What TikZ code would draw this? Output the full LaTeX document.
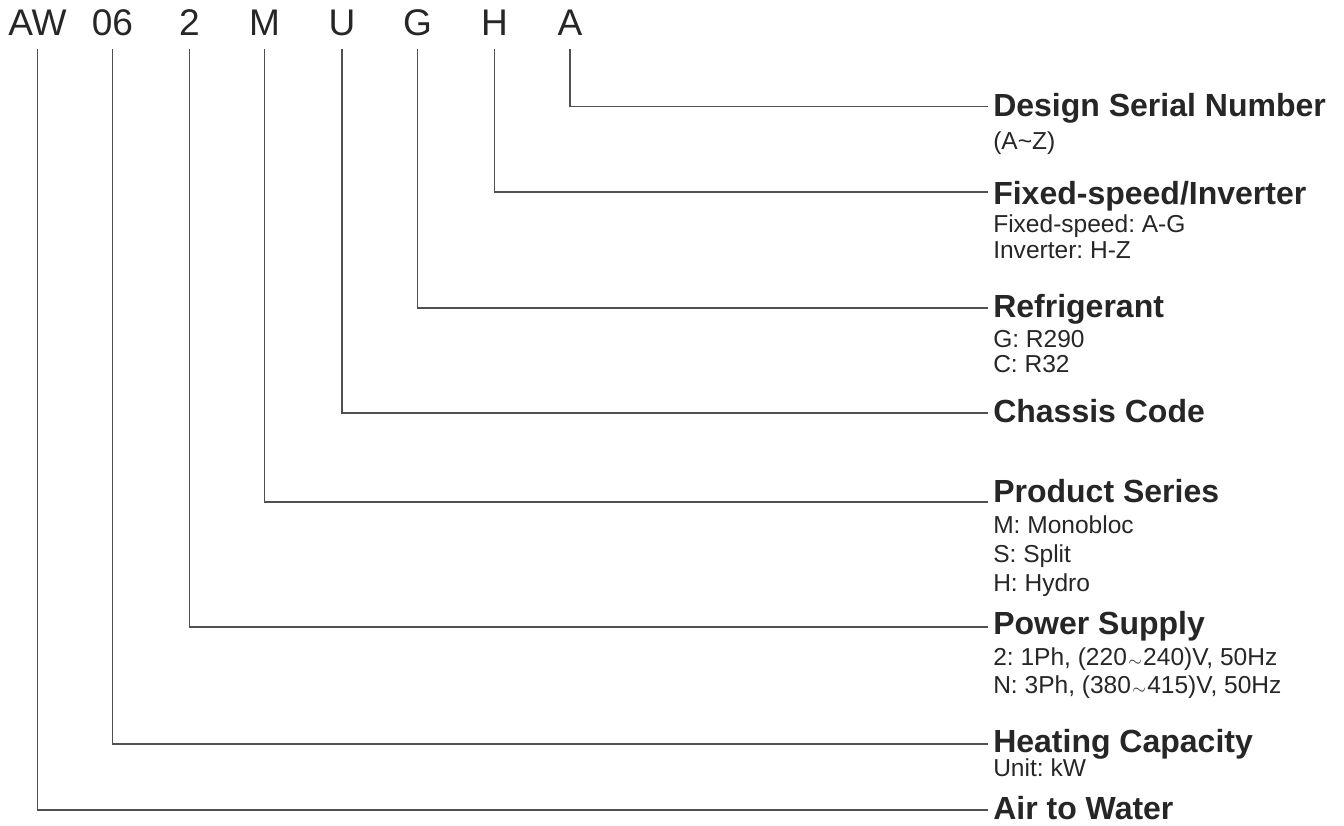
\documentclass[tikz,border=0pt]{standalone}
\usepackage{fontspec}
\setmainfont{Liberation Sans}
\usepackage{graphicx}
\usetikzlibrary{calc}
\definecolor{txt}{HTML}{262626}
\definecolor{ln}{HTML}{505050}
\newcommand{\tld}{\kern1pt\raisebox{-1.2pt}{\scalebox{0.76}{$\sim$}}\kern1pt}
\frenchspacing
\begin{document}
\begin{tikzpicture}[x=0.75pt,y=-0.75pt,
  code/.style={anchor=base,inner sep=0pt,text=txt,font=\fontsize{27.8}{32}\selectfont},
  ttl/.style={anchor=base west,inner sep=0pt,text=txt,font=\fontsize{24}{28}\selectfont\bfseries},
  sub/.style={anchor=base west,inner sep=0pt,text=txt,font=\fontsize{18.4}{22}\selectfont},
  conn/.style={draw=ln,line width=0.95pt}]
\useasboundingbox (0,0) rectangle (1344,825);
% code letters
\node[code] (cAW) at (37.5,35) {AW};
\node[code] (c06) at (112.5,35) {06};
\node[code] (c2) at (189.5,35) {2};
\node[code] (cM) at (264.5,35) {M};
\node[code] (cU) at (342,35) {U};
\node[code] (cG) at (417.5,35) {G};
\node[code] (cH) at (494.5,35) {H};
\node[code] (cA) at (570,35) {A};
% line ends
\coordinate (eA) at (988,106.7);
\coordinate (eH) at (988,192);
\coordinate (eG) at (988,308);
\coordinate (eU) at (988,413);
\coordinate (eM) at (988,502);
\coordinate (e2) at (988,627);
\coordinate (e06) at (988,744);
\coordinate (eAW) at (988,810);
% titles and descriptions
\node[ttl] (tA) at (993,116) {Design Serial Number};
\node[sub] (sA) at (993,149) {(A\textasciitilde Z)};
\node[ttl] (tH) at (993,204) {Fixed-speed/Inverter};
\node[sub] (sH1) at (993,232) {Fixed-speed: A-G};
\node[sub] (sH2) at (993,258) {Inverter: H-Z};
\node[ttl] (tG) at (993,317) {Refrigerant};
\node[sub] (sG1) at (993,347) {G: R290};
\node[sub] (sG2) at (993,372) {C: R32};
\node[ttl] (tU) at (993,422) {Chassis Code};
\node[ttl] (tM) at (993,502) {Product Series};
\node[sub] (sM1) at (993,533) {M: Monobloc};
\node[sub] (sM2) at (993,562) {S: Split};
\node[sub] (sM3) at (993,591) {H: Hydro};
\node[ttl] (t2) at (993,634) {Power Supply};
\node[sub] (s21) at (993,665) {2: 1Ph, (220\tld240)V, 50Hz};
\node[sub] (s22) at (993,693) {N: 3Ph, (380\tld415)V, 50Hz};
\node[ttl] (t06) at (993,752) {Heating Capacity};
\node[sub] (s06) at (993,776) {Unit: kW};
\node[ttl] (tAW) at (993,819) {Air to Water};
% connectors
\draw[conn] ($(cA.base)+(0,14)$) |- (eA);
\draw[conn] ($(cH.base)+(0,14)$) |- (eH);
\draw[conn] ($(cG.base)+(0,14)$) |- (eG);
\draw[conn] ($(cU.base)+(0,14)$) |- (eU);
\draw[conn] ($(cM.base)+(0,14)$) |- (eM);
\draw[conn] ($(c2.base)+(0,14)$) |- (e2);
\draw[conn] ($(c06.base)+(0,14)$) |- (e06);
\draw[conn] ($(cAW.base)+(0,14)$) |- (eAW);
\end{tikzpicture}
\end{document}
